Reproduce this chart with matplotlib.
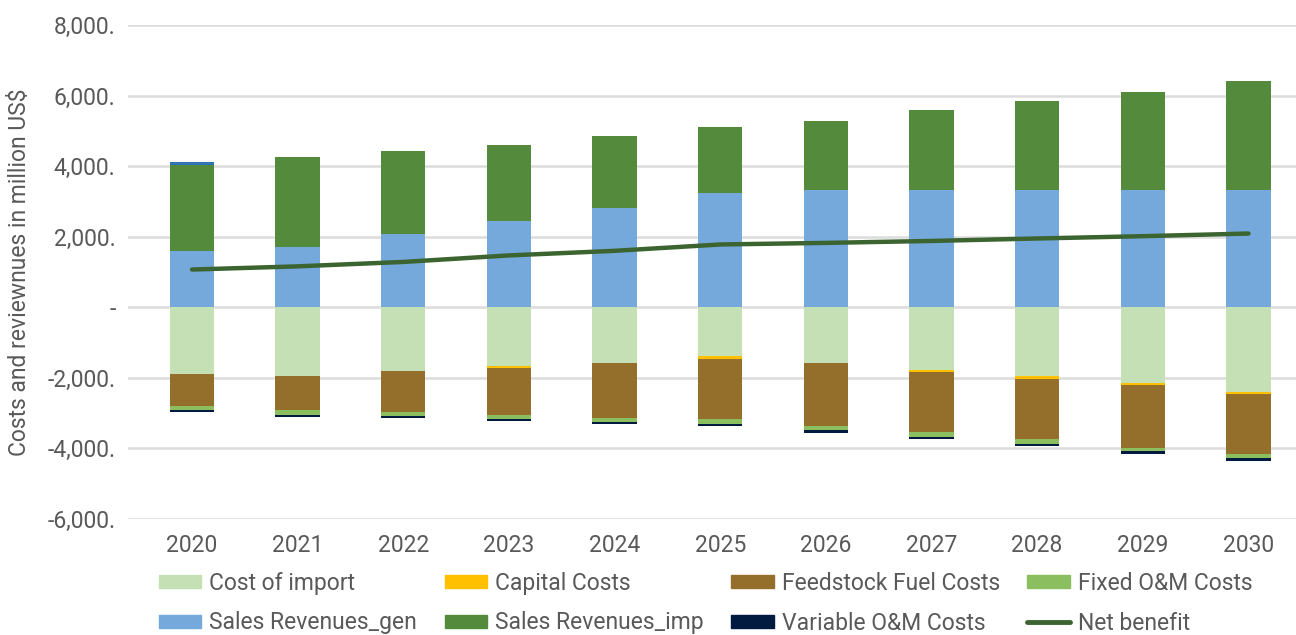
import matplotlib
matplotlib.use('Agg')
import matplotlib.pyplot as plt
from matplotlib.ticker import FuncFormatter
from matplotlib.patches import Patch
from matplotlib.lines import Line2D
import numpy as np

years = ['2020', '2021', '2022', '2023', '2024', '2025', '2026', '2027', '2028', '2029', '2030']

# revenues (positive)
sales_gen = [1600, 1720, 2090, 2440, 2810, 3240, 3320, 3320, 3320, 3320, 3320]
sales_imp = [2440, 2530, 2340, 2155, 2040, 1860, 1965, 2270, 2515, 2770, 3080]
sales_other = [85, 0, 0, 0, 0, 0, 0, 0, 0, 0, 0]

# costs (negative)
cost_import = [-1880, -1935, -1800, -1655, -1580, -1390, -1590, -1770, -1960, -2150, -2400]
capital = [0, 0, 0, -65, 0, -75, 0, -65, -65, -55, -55]
feedstock = [-905, -965, -1180, -1340, -1550, -1710, -1780, -1710, -1720, -1790, -1710]
fixed_om = [-130, -140, -110, -115, -125, -125, -120, -130, -125, -90, -120]
variable_om = [-60, -60, -60, -55, -55, -65, -75, -65, -55, -65, -75]

net_benefit = [1070, 1160, 1285, 1470, 1600, 1780, 1825, 1880, 1950, 2015, 2090]

c_import = '#C5E0B4'
c_capital = '#FFC000'
c_feed = '#946F2C'
c_fixed = '#8BBE5F'
c_gen = '#76A9DB'
c_imp = '#538A3C'
c_var = '#001A40'
c_other = '#2E75B6'
c_net = '#3C6431'
grey = '#595959'

plt.rcParams['font.family'] = ['Roboto', 'DejaVu Sans']
fs = 16.5

fig = plt.figure(figsize=(12.96, 6.35), dpi=100)
ax = fig.add_axes([128/1296, 116/635, 1 - 128/1296, 494/635])

x = np.arange(len(years))
w = 0.42

ax.bar(x, sales_gen, w, color=c_gen, zorder=2)
ax.bar(x, sales_imp, w, bottom=sales_gen, color=c_imp, zorder=2)
top = np.array(sales_gen) + np.array(sales_imp)
ax.bar(x, sales_other, w, bottom=top, color=c_other, zorder=2)

bottom = np.zeros(len(years))
for vals, col in [(cost_import, c_import), (capital, c_capital), (feedstock, c_feed),
                  (fixed_om, c_fixed), (variable_om, c_var)]:
    ax.bar(x, vals, w, bottom=bottom, color=col, zorder=2)
    bottom = bottom + np.array(vals)

ax.plot(x, net_benefit, color=c_net, lw=3.2, solid_capstyle='round', zorder=3)

ax.set_ylim(-6000, 8000)
ax.set_yticks(range(-6000, 8001, 2000))
ax.yaxis.set_major_formatter(FuncFormatter(lambda v, p: '-' if v == 0 else '{:,.0f}.'.format(v)))
ax.set_xlim(-0.606, 10.45)
ax.set_xticks(x)
ax.set_xticklabels(years)
ax.grid(axis='y', color='#DCDCDC', lw=1.8, zorder=0)
for s in ax.spines.values():
    s.set_visible(False)
ax.tick_params(axis='both', length=0, labelsize=fs, colors=grey)
ax.tick_params(axis='x', pad=11)
ax.tick_params(axis='y', pad=9)
ax.set_ylabel('Costs and reviewnues in million US$', fontsize=fs, color=grey)
ax.yaxis.set_label_coords(-0.083, 0.5)

handles = [
    Patch(color=c_import, label='Cost of import'),
    Patch(color=c_gen, label='Sales Revenues_gen'),
    Patch(color=c_capital, label='Capital Costs'),
    Patch(color=c_imp, label='Sales Revenues_imp'),
    Patch(color=c_feed, label='Feedstock Fuel Costs'),
    Patch(color=c_var, label='Variable O&M Costs'),
    Patch(color=c_fixed, label='Fixed O&M Costs'),
    Line2D([0], [0], color=c_net, lw=3.5, solid_capstyle='round', label='Net benefit'),
]
leg = fig.legend(handles=handles, ncol=4, loc='upper left', bbox_to_anchor=(159/1296, 1 - 572/635),
                 frameon=False, fontsize=fs, handlelength=1.85, handleheight=0.5,
                 handletextpad=0.35, columnspacing=1.2, labelspacing=0.72,
                 borderaxespad=0, borderpad=0)
for t in leg.get_texts():
    t.set_color(grey)

fig.savefig('out.png', dpi=100)
